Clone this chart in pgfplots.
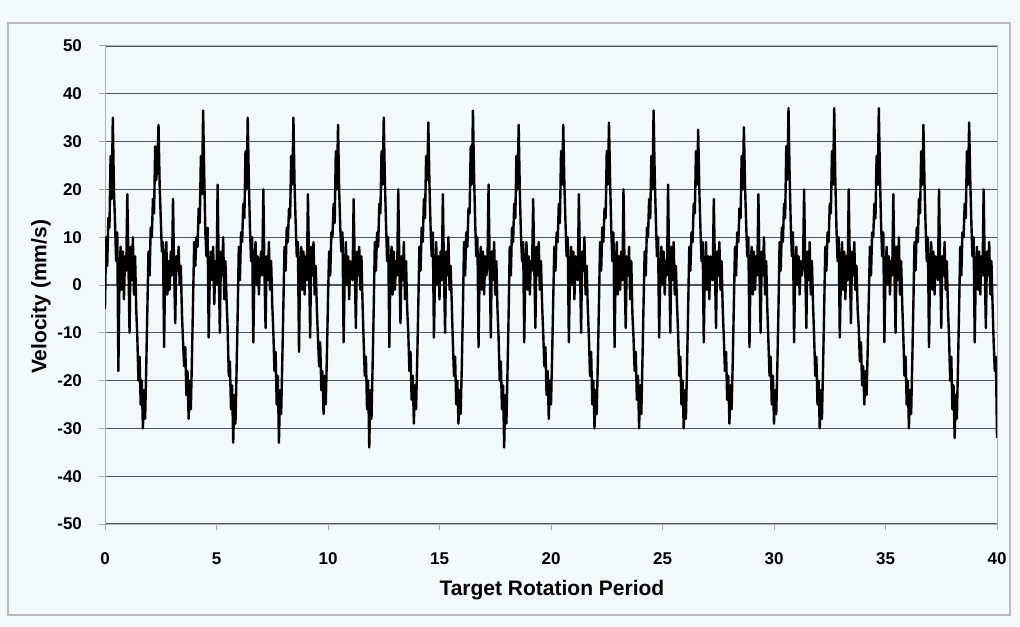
\documentclass[border=0pt]{standalone}
\usepackage{pgfplots}
\pgfplotsset{compat=1.18}
\usepackage{fontspec}
\setmainfont{Liberation Sans}
\definecolor{bgc}{RGB}{241,249,253}
\definecolor{gridc}{RGB}{80,85,95}
\begin{document}
\begin{tikzpicture}
\fill[bgc] (-52.5pt,-51pt) rectangle (457.5pt,262pt);
\draw[gray!55, line width=0.6pt] (-48.5pt,-45.5pt) rectangle (452.5pt,250.5pt);
\begin{axis}[
  scale only axis, width=446pt, height=239pt,
  xmin=0, xmax=40, ymin=-50, ymax=50,
  xtick={0,5,...,40}, ytick={-50,-40,...,50},
  xticklabels={0,5,10,15,20,25,30,35,40},
  yticklabels={-50,-40,-30,-20,-10,0,10,20,30,40,50},
  ymajorgrids, grid style={gridc, line width=0.65pt},
  axis line style={gray!60, line width=0.5pt},
  tick align=outside, major tick length=3pt, tick style={gray!70, line width=0.5pt},
  xtick pos=bottom, ytick pos=left,
  ticklabel style={font=\bfseries\fontsize{8.5}{10}\selectfont},
  xticklabel style={yshift=-8pt},
  yticklabel style={xshift=-5pt},
  xlabel={Target Rotation Period}, ylabel={Velocity (mm/s)},
  label style={font=\bfseries\fontsize{10.5}{12}\selectfont},
  xlabel style={at={(axis description cs:0.501,-0.138)}, anchor=center},
  ylabel style={at={(axis description cs:-0.0717,0.475)}, anchor=center},
]
\addplot[black, line width=1.2pt, line join=round] coordinates {
(0.00,-5)(0.05,10)(0.10,4)(0.15,14)(0.20,12)(0.25,27)(0.30,18)(0.35,35)(0.40,20)(0.45,13)(0.50,5)(0.55,11)(0.60,-18)(0.65,2)(0.70,8)(0.75,-1)(0.80,7)(0.85,-3)(0.90,6)(0.95,3)
(1.00,19)(1.05,5)(1.10,-10)(1.15,8)(1.20,1)(1.25,10)(1.30,-2)(1.35,6)(1.40,-5)(1.45,-11)(1.50,-20)(1.55,-15)(1.60,-25)(1.65,-20)(1.70,-30)(1.75,-22)(1.80,-28)(1.85,-17)(1.90,-5)(1.95,7)
(2.00,2)(2.05,12)(2.10,10)(2.15,18)(2.20,15)(2.25,29)(2.30,22)(2.35,26)(2.40,33.5)(2.45,21)(2.50,14)(2.55,7)(2.60,9)(2.65,-13)(2.70,4)(2.75,9)(2.80,-2)(2.85,5)(2.90,-1)(2.95,7)
(3.00,2)(3.05,18)(3.10,3)(3.15,-8)(3.20,6)(3.25,3)(3.30,8)(3.35,0)(3.40,4)(3.45,-6)(3.50,-12)(3.55,-17)(3.60,-13)(3.65,-23)(3.70,-18)(3.75,-28)(3.80,-20)(3.85,-26)(3.90,-15)(3.95,-3)
(4.00,9)(4.05,4)(4.10,10)(4.15,8)(4.20,16)(4.25,13)(4.30,27)(4.35,19)(4.40,36.5)(4.45,23)(4.50,11)(4.55,6)(4.60,12)(4.65,-11)(4.70,2)(4.75,7)(4.80,1)(4.85,8)(4.90,-4)(4.95,5)
(5.00,0)(5.05,21)(5.10,4)(5.15,-10)(5.20,7)(5.25,2)(5.30,10)(5.35,-3)(5.40,5)(5.45,-3)(5.50,-9)(5.55,-19)(5.60,-16)(5.65,-26)(5.70,-21)(5.75,-33)(5.80,-23)(5.85,-29)(5.90,-18)(5.95,-6)
(6.00,8)(6.05,1)(6.10,11)(6.15,9)(6.20,17)(6.25,14)(6.30,28)(6.35,20)(6.40,35)(6.45,22)(6.50,12)(6.55,5)(6.60,10)(6.65,-12)(6.70,3)(6.75,9)(6.80,0)(6.85,6)(6.90,-2)(6.95,4)
(7.00,7)(7.05,2)(7.10,20)(7.15,3)(7.20,-9)(7.25,6)(7.30,1)(7.35,9)(7.40,-1)(7.45,5)(7.50,-4)(7.55,-10)(7.60,-18)(7.65,-14)(7.70,-25)(7.75,-19)(7.80,-33)(7.85,-22)(7.90,-27)(7.95,-16)
(8.00,-4)(8.05,8)(8.10,3)(8.15,12)(8.20,9)(8.25,16)(8.30,14)(8.35,27)(8.40,21)(8.45,35)(8.50,21)(8.55,13)(8.60,6)(8.65,9)(8.70,-14)(8.75,4)(8.80,8)(8.85,-1)(8.90,7)(8.95,-2)
(9.00,6)(9.05,1)(9.10,19)(9.15,5)(9.20,-11)(9.25,8)(9.30,2)(9.35,9)(9.40,-2)(9.45,4)(9.50,-5)(9.55,-11)(9.60,-17)(9.65,-12)(9.70,-22)(9.75,-18)(9.80,-27)(9.85,-19)(9.90,-25)(9.95,-15)
(10.00,-3)(10.05,7)(10.10,2)(10.15,11)(10.20,10)(10.25,17)(10.30,13)(10.35,28)(10.40,20)(10.45,33.5)(10.50,20)(10.55,12)(10.60,7)(10.65,11)(10.70,-12)(10.75,2)(10.80,9)(10.85,0)(10.90,6)(10.95,-3)
(11.00,5)(11.05,3)(11.10,1)(11.15,18)(11.20,4)(11.25,-9)(11.30,7)(11.35,2)(11.40,8)(11.45,-1)(11.50,6)(11.55,-4)(11.60,-12)(11.65,-19)(11.70,-15)(11.75,-26)(11.80,-20)(11.85,-34)(11.90,-22)(11.95,-28)
(12.00,-17)(12.05,-5)(12.10,9)(12.15,3)(12.20,11)(12.25,8)(12.30,17)(12.35,15)(12.40,28)(12.45,21)(12.50,35)(12.55,22)(12.60,13)(12.65,5)(12.70,10)(12.75,-13)(12.80,3)(12.85,8)(12.90,-2)(12.95,7)
(13.00,-1)(13.05,5)(13.10,2)(13.15,20)(13.20,4)(13.25,-8)(13.30,6)(13.35,1)(13.40,9)(13.45,-3)(13.50,5)(13.55,-5)(13.60,-10)(13.65,-18)(13.70,-14)(13.75,-24)(13.80,-19)(13.85,-29)(13.90,-21)(13.95,-26)
(14.00,-16)(14.05,-4)(14.10,8)(14.15,3)(14.20,12)(14.25,9)(14.30,18)(14.35,14)(14.40,27)(14.45,22)(14.50,34)(14.55,21)(14.60,12)(14.65,6)(14.70,11)(14.75,-11)(14.80,2)(14.85,9)(14.90,0)(14.95,6)
(15.00,-3)(15.05,7)(15.10,1)(15.15,19)(15.20,3)(15.25,-10)(15.30,7)(15.35,2)(15.40,10)(15.45,-1)(15.50,4)(15.55,-4)(15.60,-12)(15.65,-19)(15.70,-15)(15.75,-25)(15.80,-20)(15.85,-29)(15.90,-22)(15.95,-27)
(16.00,-17)(16.05,-5)(16.10,9)(16.15,2)(16.20,11)(16.25,8)(16.30,16)(16.35,15)(16.40,29)(16.45,21)(16.50,36.5)(16.55,23)(16.60,13)(16.65,6)(16.70,10)(16.75,-13)(16.80,3)(16.85,8)(16.90,-1)(16.95,7)
(17.00,-2)(17.05,6)(17.10,2)(17.15,4)(17.20,21)(17.25,5)(17.30,-11)(17.35,7)(17.40,1)(17.45,9)(17.50,-2)(17.55,5)(17.60,-5)(17.65,-11)(17.70,-20)(17.75,-16)(17.80,-26)(17.85,-21)(17.90,-34)(17.95,-23)
(18.00,-29)(18.05,-18)(18.10,-6)(18.15,8)(18.20,2)(18.25,12)(18.30,9)(18.35,17)(18.40,14)(18.45,27)(18.50,20)(18.55,33.5)(18.60,20)(18.65,11)(18.70,5)(18.75,9)(18.80,-12)(18.85,4)(18.90,9)(18.95,-1)
(19.00,6)(19.05,-2)(19.10,5)(19.15,3)(19.20,18)(19.25,4)(19.30,-9)(19.35,8)(19.40,2)(19.45,9)(19.50,-1)(19.55,5)(19.60,-4)(19.65,-10)(19.70,-17)(19.75,-13)(19.80,-23)(19.85,-18)(19.90,-28)(19.95,-20)
(20.00,-25)(20.05,-15)(20.10,-3)(20.15,8)(20.20,3)(20.25,11)(20.30,9)(20.35,17)(20.40,13)(20.45,28)(20.50,21)(20.55,33.5)(20.60,21)(20.65,13)(20.70,6)(20.75,10)(20.80,-12)(20.85,2)(20.90,8)(20.95,0)
(21.00,7)(21.05,-3)(21.10,6)(21.15,2)(21.20,1)(21.25,19)(21.30,4)(21.35,-10)(21.40,7)(21.45,3)(21.50,10)(21.55,-2)(21.60,4)(21.65,-5)(21.70,-11)(21.75,-19)(21.80,-14)(21.85,-25)(21.90,-20)(21.95,-30)
(22.00,-22)(22.05,-27)(22.10,-16)(22.15,-4)(22.20,9)(22.25,3)(22.30,12)(22.35,9)(22.40,16)(22.45,14)(22.50,28)(22.55,21)(22.60,34)(22.65,22)(22.70,12)(22.75,5)(22.80,11)(22.85,-13)(22.90,3)(22.95,9)
(23.00,-2)(23.05,6)(23.10,-1)(23.15,7)(23.20,1)(23.25,20)(23.30,3)(23.35,-9)(23.40,6)(23.45,2)(23.50,8)(23.55,-3)(23.60,5)(23.65,-6)(23.70,-11)(23.75,-18)(23.80,-14)(23.85,-24)(23.90,-19)(23.95,-30)
(24.00,-21)(24.05,-27)(24.10,-16)(24.15,-4)(24.20,7)(24.25,2)(24.30,12)(24.35,10)(24.40,18)(24.45,14)(24.50,27)(24.55,20)(24.60,36.5)(24.65,23)(24.70,14)(24.75,6)(24.80,10)(24.85,-11)(24.90,2)(24.95,8)
(25.00,0)(25.05,7)(25.10,-2)(25.15,5)(25.20,2)(25.25,21)(25.30,4)(25.35,-10)(25.40,8)(25.45,1)(25.50,9)(25.55,-2)(25.60,4)(25.65,-4)(25.70,-10)(25.75,-19)(25.80,-15)(25.85,-25)(25.90,-20)(25.95,-30)
(26.00,-22)(26.05,-28)(26.10,-17)(26.15,-5)(26.20,8)(26.25,3)(26.30,11)(26.35,9)(26.40,17)(26.45,15)(26.50,28)(26.55,21)(26.60,32.5)(26.65,20)(26.70,12)(26.75,5)(26.80,9)(26.85,-12)(26.90,3)(26.95,9)
(27.00,-1)(27.05,6)(27.10,-3)(27.15,6)(27.20,3)(27.25,1)(27.30,18)(27.35,4)(27.40,-9)(27.45,7)(27.50,2)(27.55,9)(27.60,-1)(27.65,5)(27.70,-5)(27.75,-11)(27.80,-18)(27.85,-14)(27.90,-24)(27.95,-19)
(28.00,-29)(28.05,-21)(28.10,-26)(28.15,-16)(28.20,-4)(28.25,8)(28.30,2)(28.35,11)(28.40,9)(28.45,16)(28.50,14)(28.55,27)(28.60,20)(28.65,33)(28.70,21)(28.75,13)(28.80,6)(28.85,10)(28.90,-13)(28.95,4)
(29.00,8)(29.05,-2)(29.10,7)(29.15,-1)(29.20,6)(29.25,2)(29.30,19)(29.35,3)(29.40,-10)(29.45,7)(29.50,2)(29.55,10)(29.60,-2)(29.65,5)(29.70,-5)(29.75,-12)(29.80,-19)(29.85,-15)(29.90,-25)(29.95,-19)
(30.00,-29)(30.05,-22)(30.10,-27)(30.15,-17)(30.20,-5)(30.25,9)(30.30,3)(30.35,12)(30.40,9)(30.45,17)(30.50,14)(30.55,29)(30.60,22)(30.65,37)(30.70,23)(30.75,13)(30.80,6)(30.85,11)(30.90,-12)(30.95,3)
(31.00,8)(31.05,0)(31.10,6)(31.15,-2)(31.20,5)(31.25,2)(31.30,4)(31.35,20)(31.40,4)(31.45,-9)(31.50,7)(31.55,1)(31.60,9)(31.65,-2)(31.70,5)(31.75,-4)(31.80,-11)(31.85,-19)(31.90,-15)(31.95,-25)
(32.00,-20)(32.05,-30)(32.10,-22)(32.15,-28)(32.20,-17)(32.25,-5)(32.30,8)(32.35,3)(32.40,11)(32.45,9)(32.50,17)(32.55,15)(32.60,28)(32.65,21)(32.70,37)(32.75,22)(32.80,12)(32.85,5)(32.90,10)(32.95,-11)
(33.00,2)(33.05,9)(33.10,-1)(33.15,7)(33.20,-3)(33.25,6)(33.30,1)(33.35,20)(33.40,4)(33.45,-8)(33.50,7)(33.55,2)(33.60,9)(33.65,-1)(33.70,4)(33.75,-5)(33.80,-9)(33.85,-16)(33.90,-12)(33.95,-21)
(34.00,-17)(34.05,-25)(34.10,-18)(34.15,-23)(34.20,-14)(34.25,-3)(34.30,8)(34.35,2)(34.40,11)(34.45,10)(34.50,17)(34.55,14)(34.60,27)(34.65,21)(34.70,37)(34.75,23)(34.80,13)(34.85,6)(34.90,11)(34.95,-12)
(35.00,3)(35.05,8)(35.10,0)(35.15,6)(35.20,-2)(35.25,5)(35.30,2)(35.35,19)(35.40,3)(35.45,-10)(35.50,8)(35.55,1)(35.60,10)(35.65,-2)(35.70,5)(35.75,-4)(35.80,-11)(35.85,-19)(35.90,-15)(35.95,-25)
(36.00,-20)(36.05,-30)(36.10,-22)(36.15,-27)(36.20,-16)(36.25,-4)(36.30,9)(36.35,3)(36.40,12)(36.45,9)(36.50,18)(36.55,15)(36.60,28)(36.65,21)(36.70,33.5)(36.75,21)(36.80,12)(36.85,5)(36.90,10)(36.95,-13)
(37.00,4)(37.05,9)(37.10,-1)(37.15,7)(37.20,-2)(37.25,6)(37.30,3)(37.35,1)(37.40,20)(37.45,4)(37.50,-9)(37.55,6)(37.60,2)(37.65,9)(37.70,-1)(37.75,5)(37.80,-5)(37.85,-11)(37.90,-20)(37.95,-15)
(38.00,-26)(38.05,-21)(38.10,-32)(38.15,-23)(38.20,-28)(38.25,-17)(38.30,-5)(38.35,8)(38.40,2)(38.45,11)(38.50,10)(38.55,17)(38.60,14)(38.65,28)(38.70,21)(38.75,34)(38.80,22)(38.85,13)(38.90,6)(38.95,10)
(39.00,-12)(39.05,3)(39.10,8)(39.15,-1)(39.20,7)(39.25,-2)(39.30,6)(39.35,2)(39.40,20)(39.45,4)(39.50,-9)(39.55,7)(39.60,2)(39.65,9)(39.70,-2)(39.75,5)(39.80,-4)(39.85,-12)(39.90,-18)(39.95,-15)
(40.00,-32)
};
\end{axis}
\end{tikzpicture}
\end{document}
